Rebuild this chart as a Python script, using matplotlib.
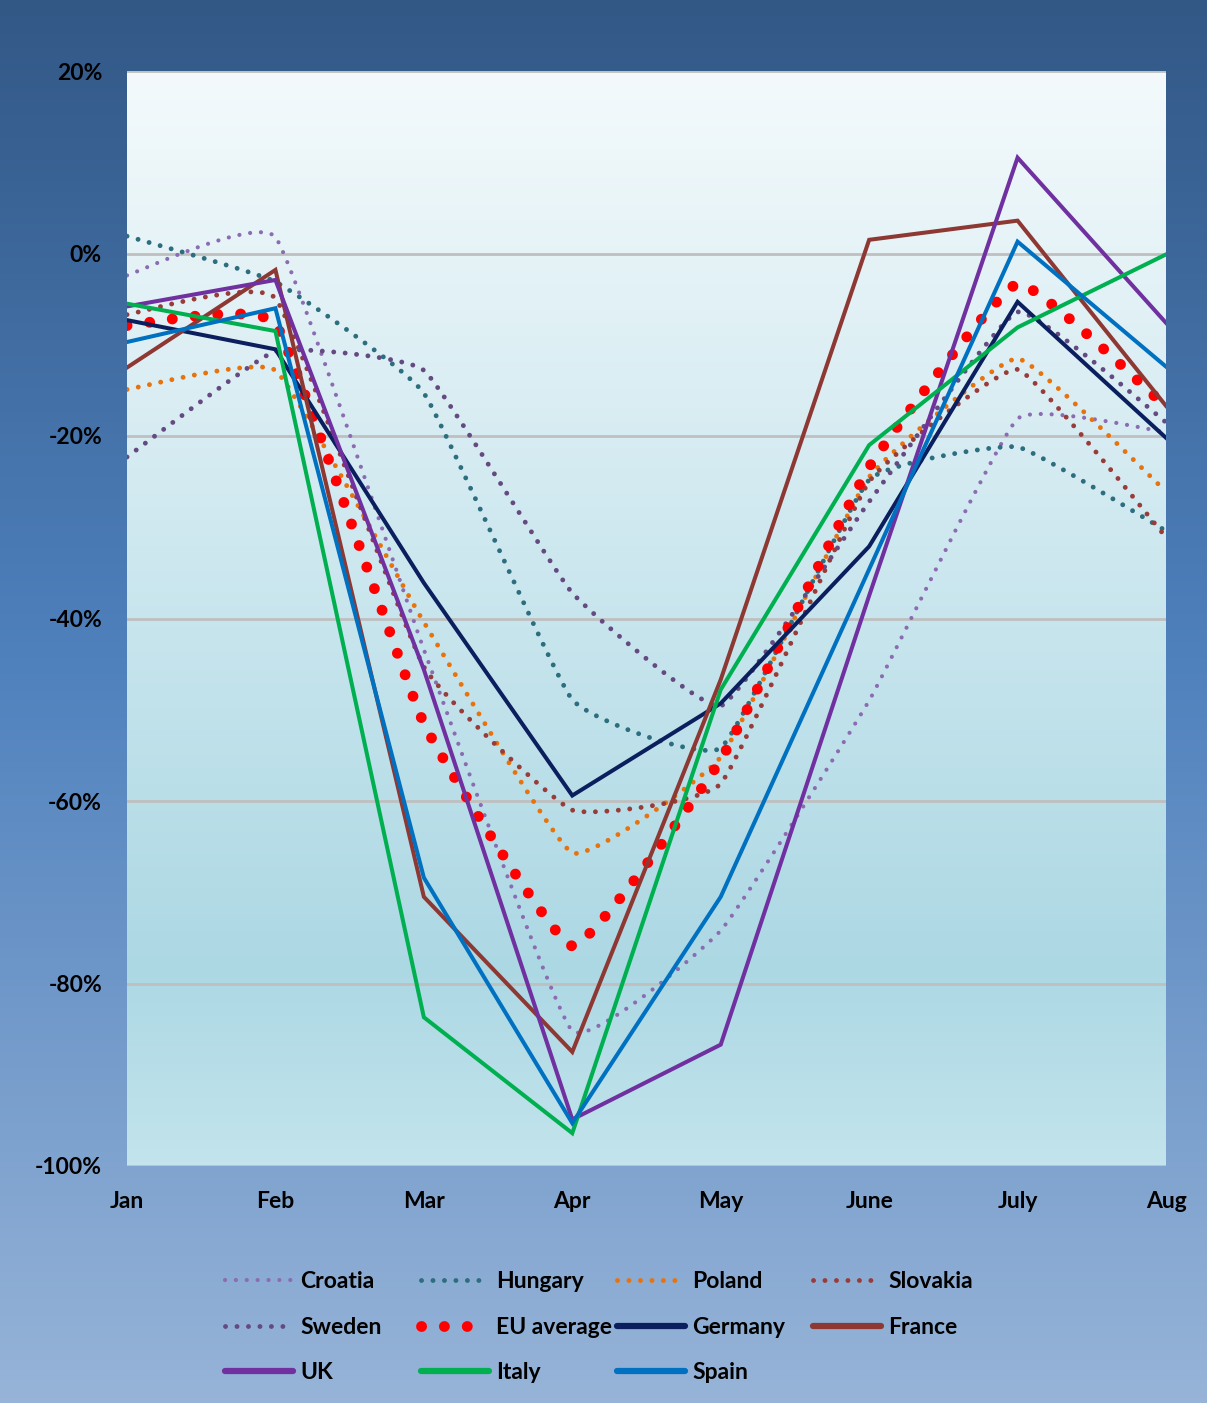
import numpy as np
import matplotlib
matplotlib.use("Agg")
import matplotlib.pyplot as plt
from matplotlib.colors import LinearSegmentedColormap
from matplotlib.lines import Line2D
from matplotlib.ticker import FuncFormatter

plt.rcParams['font.family'] = ['Lato', 'DejaVu Sans']

months = ['Jan', 'Feb', 'Mar', 'Apr', 'May', 'June', 'July', 'Aug']

# monthly change, %
croatia = [-2.4, 1.8, -43.4, -85.2, -74.2, -49.0, -18.1, -19.6]
hungary = [1.9, -3.1, -15.3, -48.9, -54.2, -24.8, -21.2, -30.4]
poland = [-14.9, -12.8, -40.4, -65.7, -55.2, -24.5, -11.5, -26.1]
slovakia = [-6.7, -4.9, -45.3, -61.0, -58.1, -25.0, -12.7, -31.1]
sweden = [-22.3, -10.7, -12.8, -37.2, -49.6, -27.2, -6.4, -18.5]
eu_average = [-7.9, -7.7, -51.5, -75.9, -55.5, -23.4, -3.3, -16.8]
germany = [-7.3, -10.5, -36.1, -59.4, -49.3, -32.1, -5.3, -20.2]
france = [-12.5, -1.8, -70.5, -87.5, -46.7, 1.5, 3.6, -16.7]
uk = [-5.8, -2.9, -45.6, -94.9, -86.7, -37.5, 10.5, -7.6]
italy = [-5.5, -8.5, -83.7, -96.4, -47.8, -21.0, -8.1, -0.1]
spain = [-9.7, -6.0, -68.4, -95.3, -70.5, -34.6, 1.3, -12.4]

series = [
    ('Croatia', croatia, '#8b6bb1', 'dot_s'),
    ('Hungary', hungary, '#2c6e7e', 'dot'),
    ('Poland', poland, '#e8720c', 'dot'),
    ('Slovakia', slovakia, '#983c3a', 'dot'),
    ('Sweden', sweden, '#654a82', 'dot'),
    ('EU average', eu_average, '#ff0000', 'bigdot'),
    ('Germany', germany, '#0b1f5e', 'solid'),
    ('France', france, '#8e3834', 'solid'),
    ('UK', uk, '#7030a0', 'solid'),
    ('Italy', italy, '#00b050', 'solid'),
    ('Spain', spain, '#0070c0', 'solid'),
]


def smooth(x, y, n=24, k=0.35):
    # smoothed line through the points, low tension so it barely overshoots
    p = np.column_stack([x, y]).astype(float)
    out = []
    for i in range(len(p) - 1):
        p0 = p[i - 1] if i > 0 else p[i]
        p1, p2 = p[i], p[i + 1]
        p3 = p[i + 2] if i + 2 < len(p) else p[i + 1]
        c1 = p1 + k * (p2 - p0) / 6.0
        c2 = p2 - k * (p3 - p1) / 6.0
        t = np.linspace(0, 1, n)[:, None]
        seg = ((1 - t) ** 3) * p1 + 3 * ((1 - t) ** 2) * t * c1 + 3 * (1 - t) * t ** 2 * c2 + t ** 3 * p2
        out.append(seg if i == 0 else seg[1:])
    out = np.vstack(out)
    return out[:, 0], out[:, 1]


fig = plt.figure(figsize=(12.07, 14.03), dpi=100)

# figure background gradient
bg = fig.add_axes([0, 0, 1, 1], zorder=-10)
bg_cmap = LinearSegmentedColormap.from_list('bg', [(0, '#325886'), (0.47, '#4f81bd'), (1.0, '#97b4d8')])
bg.imshow(np.linspace(0, 1, 256)[:, None], aspect='auto', cmap=bg_cmap, extent=[0, 1, 0, 1], origin='upper')
bg.set_axis_off()

ax = fig.add_axes([127 / 1207, 1 - 1166 / 1403, (1166 - 127) / 1207, (1166 - 71) / 1403])
pa_cmap = LinearSegmentedColormap.from_list('pa', [(0, '#f4fafc'), (0.82, '#acd8e4'), (1.0, '#c3e4ec')])
x = np.arange(len(months))
ax.imshow(np.linspace(0, 1, 256)[:, None], aspect='auto', cmap=pa_cmap,
          extent=[0, len(months) - 1, -100, 20], origin='upper', zorder=0)

handles = {}
for i, (name, vals, color, style) in enumerate(series):
    z = 3 + i
    if style == 'solid':
        ax.plot(x, vals, color=color, lw=2.9, solid_joinstyle='miter', zorder=z)
        h = Line2D([], [], color=color, lw=4.5, solid_capstyle='round')
    else:
        xs, ys = smooth(x, vals)
        if style == 'bigdot':
            lw, gap = 7.8, 2.1
        elif style == 'dot_s':
            lw, gap = 3.0, 2.6
        else:
            lw, gap = 3.5, 2.35
        ax.plot(xs, ys, color=color, lw=lw, dashes=(0.01, gap), dash_capstyle='round', zorder=z)
        h = Line2D([], [], color=color, lw=lw, dashes=(0.01, gap), dash_capstyle='round')
    handles[name] = h

ax.set_xlim(0, len(months) - 1)
ax.set_ylim(-100, 20)
ax.set_yticks(np.arange(-100, 21, 20))
ax.yaxis.set_major_formatter(FuncFormatter(lambda v, p: '%d%%' % v))
ax.set_xticks(x)
ax.set_xticklabels(months)
ax.tick_params(length=0, labelsize=16.5)
ax.tick_params(axis='y', pad=18)
ax.tick_params(axis='x', pad=18)
for lab in ax.get_xticklabels() + ax.get_yticklabels():
    lab.set_fontweight('bold')
ax.grid(axis='y', color='#bfbfbf', lw=2, zorder=1)
ax.set_axisbelow(False)
for gl in ax.get_ygridlines():
    gl.set_zorder(1)
for s in ax.spines.values():
    s.set_visible(False)

# legend: 4 fixed-width columns, filled row by row
cols = [['Croatia', 'Sweden', 'UK'], ['Hungary', 'EU average', 'Italy'],
        ['Poland', 'Germany', 'Spain'], ['Slovakia', 'France']]
for j, names in enumerate(cols):
    fig.legend([handles[n] for n in names], names, loc='upper left',
               bbox_to_anchor=((214 + 196 * j) / 1207, 1 - 1260 / 1403),
               frameon=False, prop={'weight': 'bold', 'size': 16.5},
               handlelength=2.95, handletextpad=0.3, labelspacing=1.06, borderpad=0)

fig.savefig('out.png', dpi=100)
